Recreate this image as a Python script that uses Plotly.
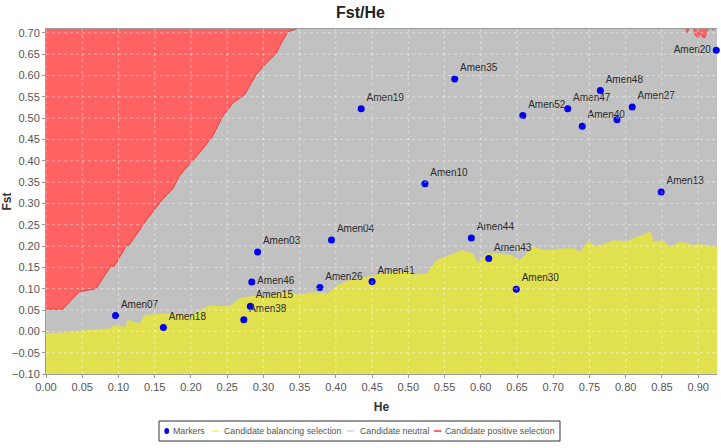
import plotly.graph_objects as go
import numpy as np

# ---------------- data ----------------
marker_names = ["Amen20", "Amen35", "Amen19", "Amen52", "Amen47", "Amen48", "Amen40", "",
                "Amen27", "Amen10", "Amen13", "Amen03", "Amen04", "Amen46", "Amen26",
                "Amen15", "Amen38", "Amen07", "Amen18", "Amen44", "Amen43", "Amen41", "Amen30"]
marker_he = [0.925, 0.564, 0.435, 0.658, 0.720, 0.765, 0.740, 0.788,
             0.809, 0.523, 0.849, 0.292, 0.394, 0.284, 0.378,
             0.282, 0.273, 0.096, 0.162, 0.587, 0.611, 0.450, 0.649]
marker_fst = [0.659, 0.592, 0.522, 0.506, 0.522, 0.565, 0.481, 0.496,
              0.526, 0.346, 0.327, 0.186, 0.214, 0.116, 0.103,
              0.059, 0.027, 0.037, 0.009, 0.219, 0.171, 0.117, 0.099]

# lower-right edge of the positive-selection region (left part)
red_he = [0.0, 0.023, 0.046, 0.069, 0.090, 0.093, 0.111, 0.115, 0.138, 0.161, 0.175, 0.184,
          0.212, 0.230, 0.244, 0.258, 0.274, 0.290, 0.304, 0.318, 0.322, 0.334, 0.346]
red_fst = [0.052, 0.052, 0.093, 0.100, 0.155, 0.150, 0.201, 0.203, 0.260, 0.310, 0.334, 0.365,
           0.419, 0.458, 0.505, 0.536, 0.555, 0.602, 0.629, 0.652, 0.668, 0.703, 0.709]
# small positive-selection spikes at the top right
red2_he = [0.882, 0.885, 0.888, 0.893, 0.896, 0.900, 0.903, 0.906, 0.909, 0.912, 0.916, 0.922]
red2_fst = [0.712, 0.700, 0.712, 0.712, 0.694, 0.688, 0.700, 0.690, 0.688, 0.703, 0.712, 0.706]

# upper edge of the balancing-selection region
yel_he = [0.0, 0.02, 0.045, 0.069, 0.088, 0.092, 0.11, 0.113, 0.129, 0.136, 0.152, 0.175,
          0.20, 0.226, 0.253, 0.267, 0.286, 0.304, 0.332, 0.348, 0.368, 0.389, 0.401, 0.419,
          0.433, 0.461, 0.50, 0.51, 0.525, 0.539, 0.562, 0.575, 0.589, 0.596, 0.608, 0.626,
          0.642, 0.654, 0.672, 0.69, 0.708, 0.728, 0.737, 0.748, 0.759, 0.783, 0.801, 0.815,
          0.834, 0.838, 0.852, 0.861, 0.874, 0.883, 0.893, 0.90, 0.926]
yel_fst = [-0.004, -0.004, 0.0, 0.005, 0.006, 0.013, 0.010, 0.026, 0.018, 0.038, 0.040, 0.042,
           0.038, 0.060, 0.058, 0.077, 0.083, 0.080, 0.093, 0.085, 0.091, 0.089, 0.107, 0.120,
           0.123, 0.135, 0.141, 0.133, 0.135, 0.166, 0.182, 0.190, 0.182, 0.159, 0.182, 0.182,
           0.178, 0.166, 0.198, 0.190, 0.193, 0.195, 0.186, 0.211, 0.198, 0.213, 0.210, 0.221,
           0.233, 0.211, 0.212, 0.198, 0.209, 0.207, 0.202, 0.205, 0.198]

x_ticks = [round(v, 2) for v in np.arange(0, 0.901, 0.05)]
y_ticks = [round(v, 2) for v in np.arange(-0.10, 0.701, 0.05)]

legend_names = ["Markers", "Candidate balancing selection", "Candidate neutral",
                "Candidate positive selection"]

# ---------------- styles ----------------
W, H = 721, 448
ML, MR, MT, MB = 46, 4, 29, 74
PW, PH = W - ML - MR, H - MT - MB
X_RANGE = [0, 0.926]
Y_RANGE = [-0.10, 0.709]
FAR_LOW = -0.3
FAR_HIGH = 0.9
GRAY = "#c1c1c1"
YELLOW = "#e1e150"
RED_FILL = "#ff6262"
RED_LINE = "#f03a3a"
BLUE = "#0000ee"
FONT = "Liberation Sans, Arial, sans-serif"
legend_colors = [BLUE, "#f0f060", "#d4d4d4", "#f03a3a"]


def px_x(p):
    return (p - ML) / PW


def px_y(p):
    return (H - MB - p) / PH


label_pos = []
for n in marker_names:
    if n == "Amen20":
        label_pos.append("middle left")
    elif n == "Amen46":
        label_pos.append("middle right")
    else:
        label_pos.append("top right")

fig = go.Figure()

# balancing selection (yellow)
fig.add_trace(go.Scatter(
    x=yel_he + [yel_he[-1], yel_he[0]],
    y=yel_fst + [FAR_LOW, FAR_LOW],
    fill="toself", fillcolor=YELLOW, mode="lines",
    line=dict(color=YELLOW, width=0.5), showlegend=False, hoverinfo="skip"))

# positive selection (red)
fig.add_trace(go.Scatter(
    x=red_he + [red_he[-1], red_he[0]],
    y=red_fst + [FAR_HIGH, FAR_HIGH],
    fill="toself", fillcolor=RED_FILL, mode="lines",
    line=dict(color=RED_LINE, width=1), showlegend=False, hoverinfo="skip"))
fig.add_trace(go.Scatter(
    x=red2_he + [red2_he[-1], red2_he[0]],
    y=red2_fst + [FAR_HIGH, FAR_HIGH],
    fill="toself", fillcolor=RED_FILL, mode="lines",
    line=dict(color=RED_LINE, width=0.8), showlegend=False, hoverinfo="skip"))

# markers
fig.add_trace(go.Scatter(
    x=marker_he, y=marker_fst, mode="markers+text", name=legend_names[0],
    text=marker_names, textposition=label_pos,
    textfont=dict(family=FONT, size=10, color="#2a2a2a"),
    marker=dict(color=BLUE, size=7), cliponaxis=False, showlegend=False))

# dotted grid drawn above the filled regions
shapes = []
for xv in x_ticks:
    shapes.append(dict(type="line", xref="x", yref="y", x0=xv, x1=xv,
                       y0=Y_RANGE[0], y1=Y_RANGE[1], layer="above",
                       line=dict(color="rgba(255,255,255,0.45)", width=1, dash="dot")))
for yv in y_ticks:
    shapes.append(dict(type="line", xref="x", yref="y", y0=yv, y1=yv,
                       x0=X_RANGE[0], x1=X_RANGE[1], layer="above",
                       line=dict(color="rgba(255,255,255,0.45)", width=1, dash="dot")))

# compact legend box (drawn by hand to match the reference's tight layout)
LEG_Y = 431
shapes.append(dict(type="rect", xref="paper", yref="paper",
                   x0=px_x(159), x1=px_x(560), y0=px_y(441), y1=px_y(421),
                   line=dict(color="#333", width=1), fillcolor="white", layer="above"))
shapes.append(dict(type="circle", xref="paper", yref="paper",
                   x0=px_x(164.3), x1=px_x(169.1), y0=px_y(434), y1=px_y(428),
                   line=dict(color=BLUE, width=0), fillcolor=BLUE, layer="above"))
sym_lines = [(211.5, 218.5), (347, 354), (434, 441.5)]
for (a, b), col in zip(sym_lines, legend_colors[1:]):
    shapes.append(dict(type="line", xref="paper", yref="paper",
                       x0=px_x(a), x1=px_x(b), y0=px_y(LEG_Y), y1=px_y(LEG_Y),
                       line=dict(color=col, width=1.5), layer="above"))
text_x = [170.5, 221.5, 358, 443]
annotations = []
for tx, nm in zip(text_x, legend_names):
    annotations.append(dict(xref="paper", yref="paper", x=px_x(tx), y=px_y(LEG_Y),
                            xanchor="left", yanchor="middle", showarrow=False, text=nm,
                            font=dict(family=FONT, size=8.8, color="#555")))

fig.update_layout(
    width=W, height=H,
    margin=dict(l=ML, r=MR, t=MT, b=MB),
    paper_bgcolor="white", plot_bgcolor=GRAY,
    font=dict(family=FONT, size=11, color="#555"),
    title=dict(text="<b>Fst/He</b>", x=0.5, xanchor="center", y=1 - 12 / H, yanchor="middle",
               font=dict(family=FONT, size=16, color="#222")),
    shapes=shapes,
    annotations=annotations,
    showlegend=False,
)
fig.update_xaxes(range=X_RANGE, tickvals=x_ticks, tickformat=".2f", showgrid=False,
                 zeroline=False, showline=True, linecolor="#9a9a9a", mirror=True,
                 ticks="outside", ticklen=3, tickcolor="#9a9a9a", automargin=False,
                 tickfont=dict(family=FONT, size=11, color="#555"),
                 title=dict(text="<b>He</b>", standoff=10,
                            font=dict(family=FONT, size=12, color="#333")))
fig.update_yaxes(range=Y_RANGE, tickvals=y_ticks, tickformat=".2f", showgrid=False,
                 zeroline=False, showline=True, linecolor="#9a9a9a",
                 ticks="outside", ticklen=3, tickcolor="#9a9a9a", automargin=False,
                 tickfont=dict(family=FONT, size=11, color="#555"),
                 title=dict(text="<b>Fst</b>", standoff=3,
                            font=dict(family=FONT, size=12, color="#333")))

fig.write_html("out.html", config={"displayModeBar": False},
               post_script="document.body.style.margin='0';")
